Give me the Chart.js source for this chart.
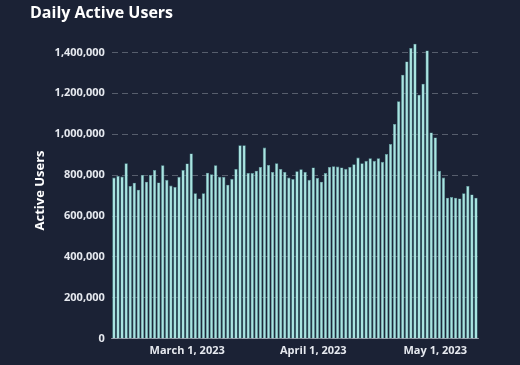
<!DOCTYPE html>
<html>
<head>
<meta charset="utf-8">
<script src="https://cdn.jsdelivr.net/npm/chart.js@4"></script>
<style>
    html, body { margin: 0; padding: 0; background: #1b2235; }
    #wrap { width: 520px; height: 365px; }
</style>
</head>
<body>
<div id="wrap"><canvas id="dauChart"></canvas></div>
<script>
// Data
const days = [
    '2023-02-11', '2023-02-12', '2023-02-13', '2023-02-14', '2023-02-15', '2023-02-16', '2023-02-17', '2023-02-18', '2023-02-19', '2023-02-20',
    '2023-02-21', '2023-02-22', '2023-02-23', '2023-02-24', '2023-02-25', '2023-02-26', '2023-02-27', '2023-02-28',
    '2023-03-01', '2023-03-02', '2023-03-03', '2023-03-04', '2023-03-05', '2023-03-06', '2023-03-07', '2023-03-08', '2023-03-09', '2023-03-10',
    '2023-03-11', '2023-03-12', '2023-03-13', '2023-03-14', '2023-03-15', '2023-03-16', '2023-03-17', '2023-03-18', '2023-03-19', '2023-03-20',
    '2023-03-21', '2023-03-22', '2023-03-23', '2023-03-24', '2023-03-25', '2023-03-26', '2023-03-27', '2023-03-28', '2023-03-29', '2023-03-30',
    '2023-03-31',
    '2023-04-01', '2023-04-02', '2023-04-03', '2023-04-04', '2023-04-05', '2023-04-06', '2023-04-07', '2023-04-08', '2023-04-09', '2023-04-10',
    '2023-04-11', '2023-04-12', '2023-04-13', '2023-04-14', '2023-04-15', '2023-04-16', '2023-04-17', '2023-04-18', '2023-04-19', '2023-04-20',
    '2023-04-21', '2023-04-22', '2023-04-23', '2023-04-24', '2023-04-25', '2023-04-26', '2023-04-27', '2023-04-28', '2023-04-29', '2023-04-30',
    '2023-05-01', '2023-05-02', '2023-05-03', '2023-05-04', '2023-05-05', '2023-05-06', '2023-05-07', '2023-05-08', '2023-05-09', '2023-05-10',
    '2023-05-11'
];

const activeUsers = [
    788000, 796000, 793000, 858000, 747000, 763000, 729000, 801000, 768000, 801000,
    825000, 764000, 849000, 777000, 749000, 742000, 792000, 825000, 857000, 906000,
    712000, 686000, 711000, 812000, 804000, 849000, 792000, 792000, 753000, 782000,
    830000, 946000, 946000, 811000, 810000, 822000, 840000, 935000, 850000, 816000,
    858000, 830000, 816000, 788000, 781000, 819000, 829000, 816000, 777000, 838000,
    786000, 768000, 810000, 840000, 844000, 842000, 838000, 831000, 840000, 853000,
    886000, 858000, 870000, 883000, 870000, 883000, 865000, 903000, 952000, 1050000,
    1161000, 1291000, 1356000, 1422000, 1443000, 1193000, 1247000, 1410000, 1009000, 984000,
    821000, 788000, 690000, 693000, 690000, 686000, 711000, 747000, 706000, 690000
];

const yTicks = [0, 200000, 400000, 600000, 800000, 1000000, 1200000, 1400000];
const monthNames = ['January', 'February', 'March', 'April', 'May', 'June'];
const yMax = 1450000;

// Colors
const textColor = '#e6e9ef';
const gridColor = 'rgba(200, 205, 215, 0.35)';
const barFill = '#a9e4e1';
const barEdge = '#5c9fa0';

const fontFamily = '"Open Sans", "Liberation Sans", sans-serif';

function dateLabel(value) {
    const parts = days[value].split('-');
    if (parts[2] !== '01') return null;
    return monthNames[parseInt(parts[1], 10) - 1] + ' 1, ' + parts[0];
}

const ctx = document.getElementById('dauChart').getContext('2d');

new Chart(ctx, {
    type: 'bar',
    data: {
        labels: days,
        datasets: [{
            label: 'Active Users',
            data: activeUsers,
            backgroundColor: barFill,
            borderColor: barEdge,
            borderWidth: 0.6,
            barPercentage: 0.82,
            categoryPercentage: 1.0
        }]
    },
    options: {
        responsive: true,
        maintainAspectRatio: false,
        animation: false,
        layout: {
            padding: { left: 30, right: 42, top: 2, bottom: 3 }
        },
        plugins: {
            legend: { display: false },
            tooltip: { enabled: false },
            title: {
                display: true,
                text: 'Daily Active Users',
                align: 'start',
                color: '#ffffff',
                font: { family: fontFamily, size: 16, weight: 'bold' },
                padding: { top: 2, bottom: 19 }
            }
        },
        scales: {
            x: {
                grid: { display: false, drawTicks: false },
                border: { display: true, color: 'rgba(200, 205, 215, 0.6)' },
                ticks: {
                    autoSkip: false,
                    maxRotation: 0,
                    color: textColor,
                    font: { family: fontFamily, size: 11, weight: 'bold' },
                    padding: 5,
                    callback: (value) => dateLabel(value)
                }
            },
            y: {
                min: 0,
                max: yMax,
                afterBuildTicks: (axis) => {
                    axis.ticks = yTicks.map(v => ({ value: v }));
                },
                ticks: {
                    color: textColor,
                    font: { family: fontFamily, size: 11, weight: 'bold' },
                    padding: 7,
                    callback: (value) => Number(value).toLocaleString('en-US')
                },
                grid: {
                    color: gridColor,
                    drawTicks: false,
                    lineWidth: 1
                },
                border: { display: false, dash: [6, 4] },
                title: {
                    display: true,
                    text: 'Active Users',
                    color: '#ffffff',
                    font: { family: fontFamily, size: 13, weight: 'bold' },
                    padding: { top: 2, bottom: 0 }
                }
            }
        }
    }
});
</script>
</body>
</html>
